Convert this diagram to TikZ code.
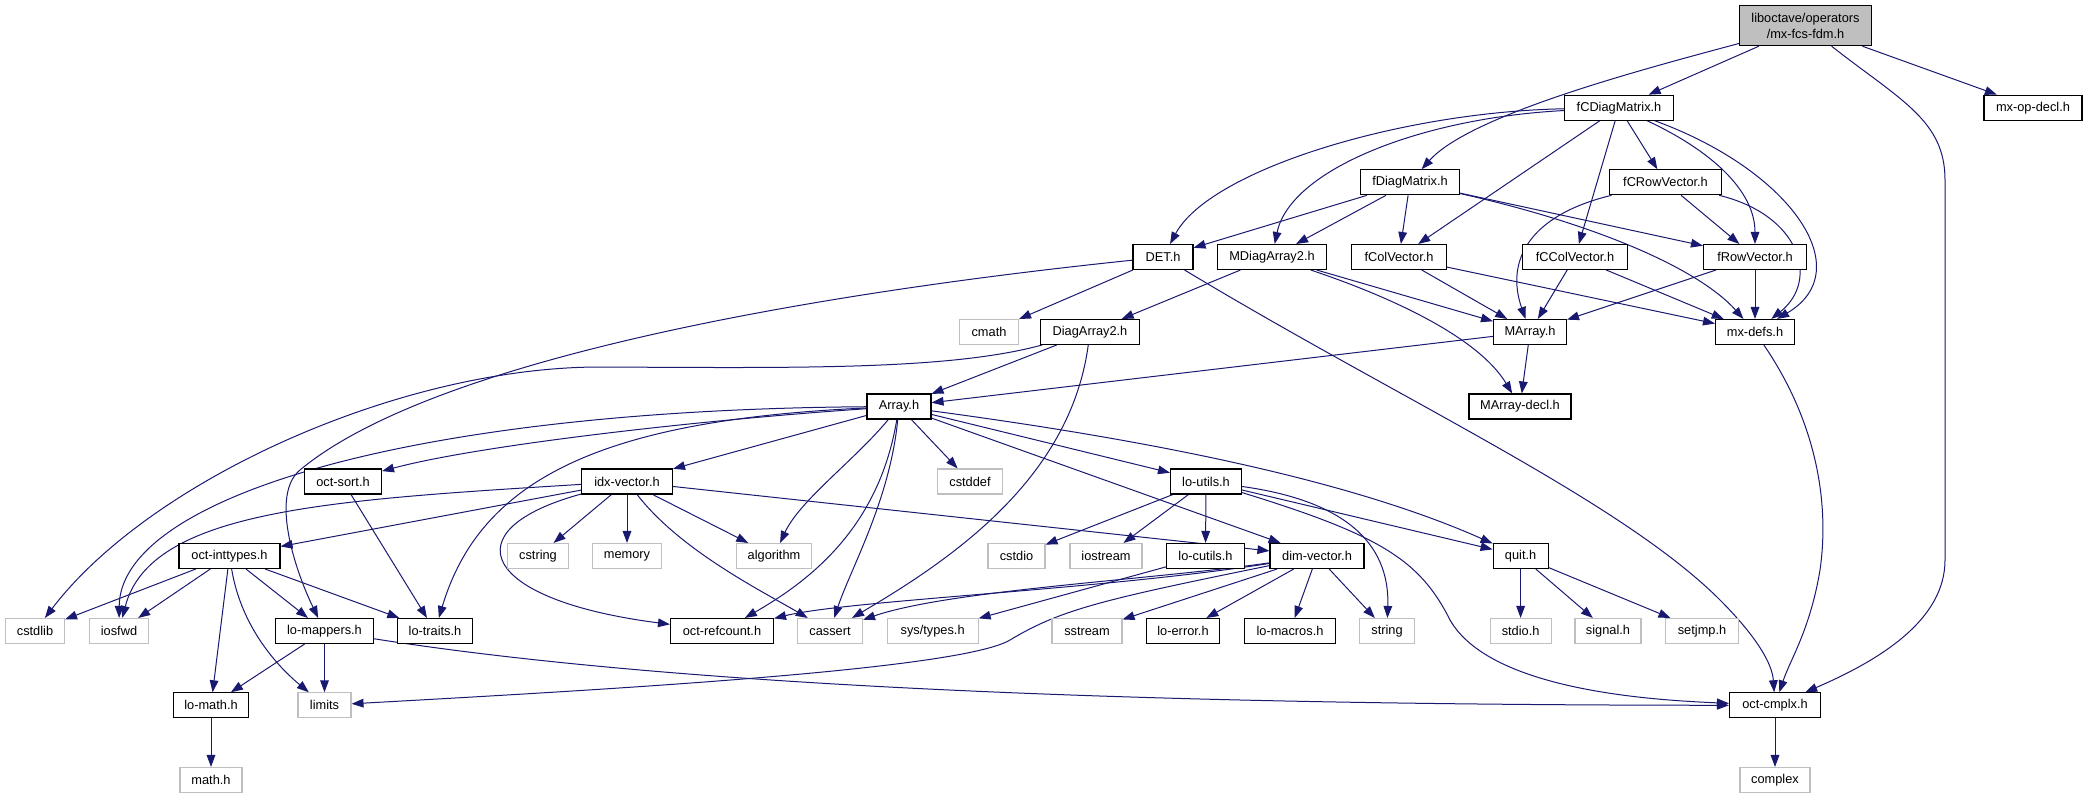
\documentclass[tikz,border=0pt]{standalone}
\usepackage{fontspec}
\setmainfont{Liberation Sans}
\usetikzlibrary{arrows.meta}
\definecolor{edgeblue}{RGB}{25,25,112}
\definecolor{sysgray}{RGB}{191,191,191}
\definecolor{rootgray}{RGB}{191,191,191}
\pgfdeclarelayer{bg}
\pgfsetlayers{bg,main}
\begin{document}
\begin{tikzpicture}[x=0.75pt,y=-0.75pt,
  box/.style={draw=black, line width=0.8pt, fill=white, minimum height=18.75pt, inner sep=0pt, font=\fontsize{9.6}{11.75}\selectfont},
  sys/.style={box, draw=sysgray},
  bw/.style={minimum width=#1*0.75pt},
  dep/.style={draw=edgeblue, line width=0.75pt, -{Triangle[length=9pt,width=6.5pt]}}]
\useasboundingbox (0,0) rectangle (2087,799);
% nodes
\node[box,bw=132,fill=rootgray,minimum height=30pt,align=center] (root) at (1805.5,25.7) {liboctave/operators\\/mx-fcs-fdm.h};
\node[box,bw=109] (fCD) at (1619,107.7) {fCDiagMatrix.h};
\node[box,bw=98] (mxop) at (2033,107.7) {mx-op-decl.h};
\node[box,bw=99] (fD) at (1410,182.3) {fDiagMatrix.h};
\node[box,bw=112] (fCR) at (1665.5,182.3) {fCRowVector.h};
\node[box,bw=60] (DET) at (1163,257) {DET.h};
\node[box,bw=109] (MDA2) at (1272,257) {MDiagArray2.h};
\node[box,bw=95] (fCV) at (1399,257) {fColVector.h};
\node[box,bw=105] (fCCV) at (1575,257) {fCColVector.h};
\node[box,bw=103] (fRV) at (1755,257) {fRowVector.h};
\node[sys,bw=59] (cmath) at (989,332) {cmath};
\node[box,bw=99] (DA2) at (1090,332) {DiagArray2.h};
\node[box,bw=73] (MArr) at (1530,332) {MArray.h};
\node[box,bw=79] (mxdefs) at (1755,332) {mx-defs.h};
\node[box,bw=64] (Array) at (899,406.5) {Array.h};
\node[box,bw=102] (MAdecl) at (1520,406.5) {MArray-decl.h};
\node[box,bw=77] (octsort) at (343,481.5) {oct-sort.h};
\node[box,bw=91] (idx) at (627,481.5) {idx-vector.h};
\node[sys,bw=65] (cstddef) at (970,481.5) {cstddef};
\node[box,bw=71] (loutils) at (1206,481.5) {lo-utils.h};
\node[box,bw=101] (octint) at (229.5,556) {oct-inttypes.h};
\node[sys,bw=61] (cstring) at (538,556) {cstring};
\node[sys,bw=69] (memory) at (627,556) {memory};
\node[sys,bw=75] (algorithm) at (774,556) {algorithm};
\node[sys,bw=57] (cstdio) at (1016.5,556) {cstdio};
\node[sys,bw=72] (iostream) at (1106,556) {iostream};
\node[box,bw=78] (locutils) at (1205.5,556) {lo-cutils.h};
\node[box,bw=94] (dimv) at (1317,556) {dim-vector.h};
\node[box,bw=55] (quit) at (1520.6,556) {quit.h};
\node[sys,bw=59] (cstdlib) at (35,631) {cstdlib};
\node[sys,bw=59] (iosfwd) at (119,631) {iosfwd};
\node[box,bw=98] (lomappers) at (324.5,631) {lo-mappers.h};
\node[box,bw=75] (lotraits) at (435,631) {lo-traits.h};
\node[box,bw=103] (octref) at (722,631) {oct-refcount.h};
\node[sys,bw=65] (cassert) at (830,631) {cassert};
\node[sys,bw=91] (systypes) at (932.6,631) {sys/types.h};
\node[sys,bw=70] (sstream) at (1087,631) {sstream};
\node[box,bw=73] (loerror) at (1183,631) {lo-error.h};
\node[box,bw=91] (lomacros) at (1290,631) {lo-macros.h};
\node[sys,bw=55] (string) at (1387,631) {string};
\node[sys,bw=61] (stdio) at (1520.6,631) {stdio.h};
\node[sys,bw=66] (signal) at (1608,631) {signal.h};
\node[sys,bw=73] (setjmp) at (1702,631) {setjmp.h};
\node[box,bw=75] (lomath) at (211,705.3) {lo-math.h};
\node[sys,bw=53] (limits) at (324.5,705.3) {limits};
\node[box,bw=91] (octcmplx) at (1775,705.3) {oct-cmplx.h};
\node[sys,bw=62] (mathh) at (211,780) {math.h};
\node[sys,bw=70] (complex) at (1775,780) {complex};
% edges
\begin{pgfonlayer}{bg}
% root
\draw[dep] (root) -- (fCD);
\draw[dep] (root) -- (mxop);
\draw[dep] (root) .. controls (1640,70) and (1470,115) .. (fD);
\draw[dep] (root) .. controls (1900,100) and (1945,120) .. (1945,180) -- (1945,560) .. controls (1945,620) and (1880,660) .. (octcmplx);
% fCDiagMatrix
\draw[dep] (fCD) .. controls (1400,112) and (1210,170) .. (DET);
\draw[dep] (fCD) .. controls (1420,118) and (1290,170) .. (MDA2);
\draw[dep] (fCD) -- (fCV);
\draw[dep] (fCD) -- (fCCV);
\draw[dep] (fCD) -- (fCR);
\draw[dep] (fCD) .. controls (1710,150) and (1755,190) .. (fRV);
\draw[dep] (fCD) .. controls (1790,170) and (1860,270) .. (mxdefs);
% fDiagMatrix
\draw[dep] (fD) -- (DET);
\draw[dep] (fD) -- (MDA2);
\draw[dep] (fD) -- (fCV);
\draw[dep] (fD) -- (fRV);
\draw[dep] (fD) .. controls (1600,225) and (1700,270) .. (mxdefs);
% fCRowVector
\draw[dep] (fCR) .. controls (1530,215) and (1505,260) .. (MArr);
\draw[dep] (fCR) -- (fRV);
\draw[dep] (fCR) .. controls (1800,215) and (1820,280) .. (mxdefs);
% DET
\draw[dep] (DET) -- (cmath);
\draw[dep] (DET) .. controls (750,300) and (420,370) .. (300,470) .. controls (270,495) and (295,570) .. (lomappers);
\draw[dep] (DET) .. controls (1400,400) and (1620,500) .. (1720,600) .. controls (1750,630) and (1772,660) .. (octcmplx);
% MDiagArray2
\draw[dep] (MDA2) -- (DA2);
\draw[dep] (MDA2) -- (MArr);
\draw[dep] (MDA2) .. controls (1400,300) and (1480,340) .. (MAdecl);
% vectors
\draw[dep] (fCV) -- (MArr);
\draw[dep] (fCV) -- (mxdefs);
\draw[dep] (fCCV) -- (MArr);
\draw[dep] (fCCV) -- (mxdefs);
\draw[dep] (fRV) -- (MArr);
\draw[dep] (fRV) -- (mxdefs);
% DiagArray2
\draw[dep] (DA2) -- (Array);
\draw[dep] (DA2) .. controls (950,370) and (800,368) .. (600,367) .. controls (400,367) and (150,480) .. (cstdlib);
\draw[dep] (DA2) .. controls (1070,480) and (950,560) .. (cassert);
% MArray
\draw[dep] (MArr) -- (Array);
\draw[dep] (MArr) -- (MAdecl);
% mx-defs
\draw[dep] (mxdefs) .. controls (1815,420) and (1830,500) .. (1820,570) .. controls (1810,630) and (1790,660) .. (octcmplx);
% Array
\draw[dep] (Array) .. controls (700,420) and (480,445) .. (octsort);
\draw[dep] (Array) .. controls (400,410) and (120,500) .. (iosfwd);
\draw[dep] (Array) .. controls (600,420) and (480,480) .. (lotraits);
\draw[dep] (Array) -- (idx);
\draw[dep] (Array) .. controls (855,460) and (800,500) .. (algorithm);
\draw[dep] (Array) .. controls (880,520) and (820,575) .. (octref);
\draw[dep] (Array) .. controls (890,500) and (850,570) .. (cassert);
\draw[dep] (Array) -- (cstddef);
\draw[dep] (Array) -- (loutils);
\draw[dep] (Array) -- (dimv);
\draw[dep] (Array) .. controls (1150,440) and (1350,480) .. (quit);
% idx-vector
\draw[dep] (idx) .. controls (330,500) and (150,510) .. (iosfwd);
\draw[dep] (idx) -- (octint);
\draw[dep] (idx) -- (cstring);
\draw[dep] (idx) -- (memory);
\draw[dep] (idx) -- (algorithm);
\draw[dep] (idx) .. controls (680,550) and (760,590) .. (cassert);
\draw[dep] (idx) .. controls (450,530) and (480,600) .. (octref);
\draw[dep] (idx) -- (dimv);
% oct-sort
\draw[dep] (octsort) -- (lotraits);
% oct-inttypes
\draw[dep] (octint) -- (cstdlib);
\draw[dep] (octint) -- (iosfwd);
\draw[dep] (octint) -- (lomath);
\draw[dep] (octint) .. controls (240,620) and (270,660) .. (limits);
\draw[dep] (octint) -- (lomappers);
\draw[dep] (octint) -- (lotraits);
% lo-mappers
\draw[dep] (lomappers) -- (lomath);
\draw[dep] (lomappers) -- (limits);
\draw[dep] (lomappers) .. controls (700,690) and (1200,705) .. (octcmplx);
% lo-math
\draw[dep] (lomath) -- (mathh);
% lo-utils
\draw[dep] (loutils) -- (cstdio);
\draw[dep] (loutils) -- (iostream);
\draw[dep] (loutils) -- (locutils);
\draw[dep] (loutils) .. controls (1340,500) and (1390,540) .. (string);
\draw[dep] (loutils) -- (quit);
\draw[dep] (loutils) .. controls (1380,535) and (1420,560) .. (1450,620) .. controls (1490,690) and (1650,700) .. (octcmplx);
% lo-cutils
\draw[dep] (locutils) -- (systypes);
% dim-vector
\draw[dep] (dimv) .. controls (1100,590) and (850,600) .. (octref);
\draw[dep] (dimv) .. controls (1150,580) and (950,590) .. (cassert);
\draw[dep] (dimv) -- (sstream);
\draw[dep] (dimv) -- (loerror);
\draw[dep] (dimv) -- (lomacros);
\draw[dep] (dimv) -- (string);
\draw[dep] (dimv) .. controls (1100,600) and (1060,610) .. (1010,640) .. controls (960,670) and (600,690) .. (limits);
% quit
\draw[dep] (quit) -- (stdio);
\draw[dep] (quit) -- (signal);
\draw[dep] (quit) -- (setjmp);
% oct-cmplx
\draw[dep] (octcmplx) -- (complex);
\end{pgfonlayer}
\end{tikzpicture}
\end{document}
